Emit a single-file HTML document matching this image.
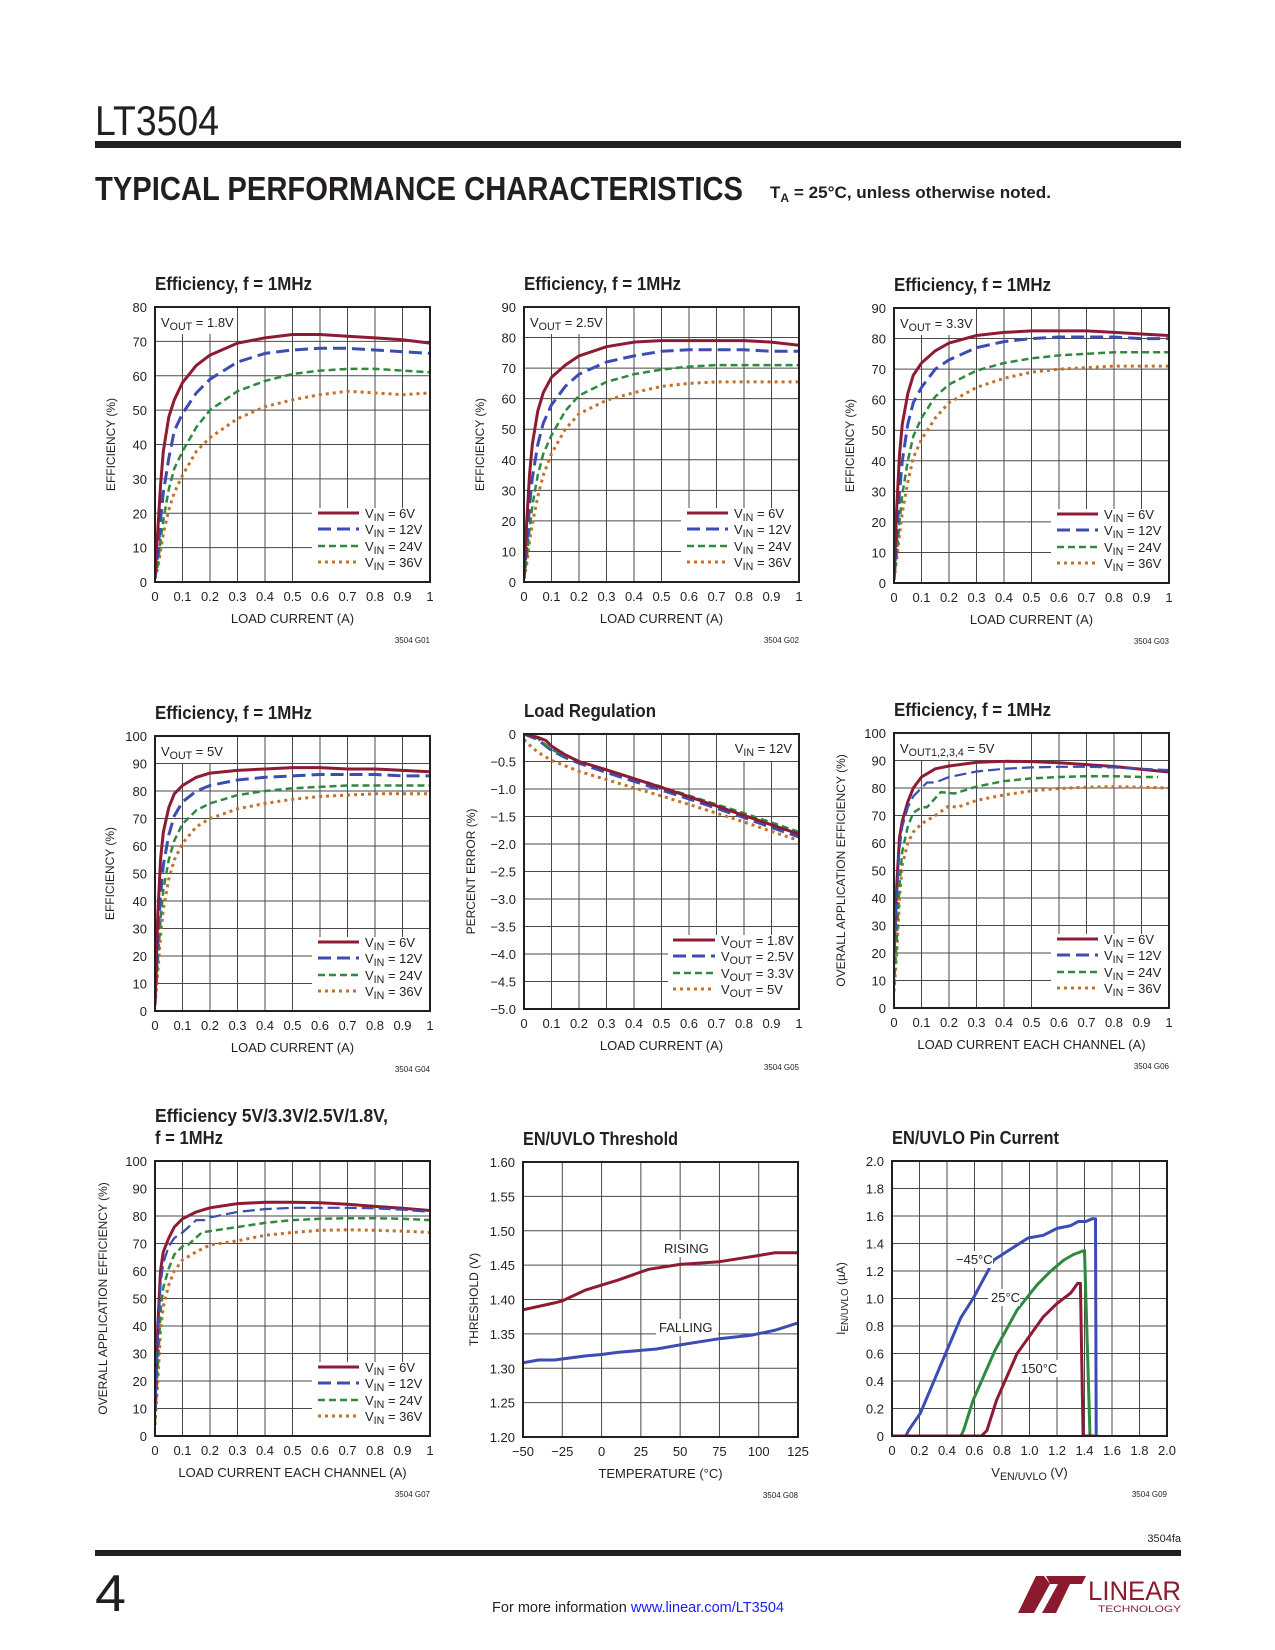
<!DOCTYPE html>
<html>
<head>
<meta charset="utf-8">
<style>
body{margin:0;background:#fff}
svg{display:block;font-family:"Liberation Sans",sans-serif}
</style>
</head>
<body>
<svg id="page" xmlns="http://www.w3.org/2000/svg" width="1275" height="1650" viewBox="0 0 1275 1650">
  <rect x="0" y="0" width="1275" height="1650" fill="#fff"/>
  <text x="95" y="135" font-size="42" fill="#231f20" textLength="124" lengthAdjust="spacingAndGlyphs">LT3504</text>
  <rect x="95" y="141" width="1086" height="7" fill="#231f20"/>
  <text x="95" y="200" font-size="33" font-weight="bold" fill="#231f20" textLength="648" lengthAdjust="spacingAndGlyphs">TYPICAL PERFORMANCE CHARACTERISTICS</text>
  <text x="770" y="198" font-size="17" font-weight="bold" fill="#231f20" textLength="281" lengthAdjust="spacingAndGlyphs">T<tspan font-size="12" dy="4">A</tspan><tspan dy="-4"> = 25°C, unless otherwise noted.</tspan></text>

  <text x="1181" y="1542" font-size="11" fill="#231f20" text-anchor="end">3504fa</text>
  <rect x="95" y="1550" width="1086" height="6" fill="#231f20"/>
  <text x="95" y="1611" font-size="52" fill="#231f20" textLength="31" lengthAdjust="spacingAndGlyphs">4</text>
  <text x="492" y="1612" font-size="15" fill="#231f20" textLength="292" lengthAdjust="spacingAndGlyphs">For more information <tspan fill="#1a1aff">www.linear.com/LT3504</tspan></text>
  <g fill="#8b1a2e">
    <polygon points="1018,1613 1034,1613 1050,1584 1044,1576 1036,1576"/>
    <polygon points="1046,1576 1086,1576 1082,1584 1070,1584 1056,1613 1042,1613 1058,1584 1050,1584"/>
    <text x="1088" y="1600" font-size="27" textLength="93" lengthAdjust="spacingAndGlyphs">LINEAR</text>
    <text x="1098" y="1612" font-size="9" textLength="83" lengthAdjust="spacingAndGlyphs">TECHNOLOGY</text>
  </g>
</svg>
<script>
// ---------- shared tick data ----------
const loadTicks = [0,0.1,0.2,0.3,0.4,0.5,0.6,0.7,0.8,0.9,1];
const loadTickLabels = ['0','0.1','0.2','0.3','0.4','0.5','0.6','0.7','0.8','0.9','1'];
const eff80Ticks = [0,10,20,30,40,50,60,70,80];
const eff80Labels = ['0','10','20','30','40','50','60','70','80'];
const eff90Ticks = [0,10,20,30,40,50,60,70,80,90];
const eff90Labels = ['0','10','20','30','40','50','60','70','80','90'];
const eff100Ticks = [0,10,20,30,40,50,60,70,80,90,100];
const eff100Labels = ['0','10','20','30','40','50','60','70','80','90','100'];
const errTicks = [-5,-4.5,-4,-3.5,-3,-2.5,-2,-1.5,-1,-0.5,0];
const errLabels = ['−5.0','−4.5','−4.0','−3.5','−3.0','−2.5','−2.0','−1.5','−1.0','−0.5','0'];
const tempTicks = [-50,-25,0,25,50,75,100,125];
const tempLabels = ['−50','−25','0','25','50','75','100','125'];
const thrTicks = [1.2,1.25,1.3,1.35,1.4,1.45,1.5,1.55,1.6];
const thrLabels = ['1.20','1.25','1.30','1.35','1.40','1.45','1.50','1.55','1.60'];
const pinTicks = [0,0.2,0.4,0.6,0.8,1.0,1.2,1.4,1.6,1.8,2.0];
const pinLabels = ['0','0.2','0.4','0.6','0.8','1.0','1.2','1.4','1.6','1.8','2.0'];

// ---------- efficiency charts 1-4 (shared load current points) ----------
const effLoadX = [0,0.01,0.02,0.03,0.05,0.07,0.1,0.15,0.2,0.3,0.4,0.5,0.6,0.7,0.8,0.9,1];
const g01Vin6  = [2,15,28,38,48,53,58,63,66,69.5,71,72,72,71.5,71,70.5,69.5];
const g01Vin12 = [1,8,18,26,36,44,49,55,59,64,66.5,67.5,68,68,67.5,67,66.5];
const g01Vin24 = [1,5,12,18,27,33,38,45,50,55.5,58.5,60.5,61.5,62,62,61.5,61];
const g01Vin36 = [1,4,9,14,21,26,31,38,42,47.5,51,53,54.5,55.5,55,54.5,55];

const g02Vin6  = [2,20,35,45,56,62,67,71,74,77,78.5,79,79,79,79,78.5,77.5];
const g02Vin12 = [1,12,25,34,45,52,58,64,68,72,74,75.5,76,76,76,75.5,75.5];
const g02Vin24 = [1,8,17,25,35,42,48,56,61,65.5,68,69.5,70.5,71,71,71,71];
const g02Vin36 = [1,6,13,19,28,35,42,50,55,59.5,62,64,65,65.5,65.5,65.5,65.5];

const g03Vin6  = [2,25,42,52,62,68,72,76,78.5,81,82,82.5,82.5,82.5,82,81.5,81];
const g03Vin12 = [1,15,30,40,52,59,64,70,73,77,79,80,80.5,80.5,80.5,80,80];
const g03Vin24 = [1,10,20,29,40,48,54,61,65,69.5,72,73.5,74.5,75,75.5,75.5,75.5];
const g03Vin36 = [1,8,16,23,33,41,47,54,59,64,67,69,70,70.5,71,71,71];

const g04Vin6  = [3,35,55,65,74,79,82,85,86.5,87.5,88,88.5,88.5,88,88,87.5,87];
const g04Vin12 = [2,25,42,53,64,71,76,80,82,84,85,85.5,86,86,86,85.5,85.5];
const g04Vin24 = [2,18,33,44,55,62,68,73,75.5,78.5,80,81,81.5,82,82,82,82];
const g04Vin36 = [2,14,27,37,48,55,61,67,70,73.5,75.5,77,78,78.5,79,79,79];

// ---------- load regulation ----------
const g05X18 = [0,0.05,0.08,0.1,0.15,0.2,0.3,0.4,0.5,0.6,0.7,0.8,0.9,1];
const g05Vout18 = [0,-0.06,-0.12,-0.22,-0.38,-0.5,-0.65,-0.81,-0.97,-1.14,-1.31,-1.48,-1.65,-1.82];
const g05X = [0,0.05,0.1,0.15,0.2,0.3,0.4,0.5,0.6,0.7,0.8,0.9,1];
const g05Vout25 = [0,-0.1,-0.3,-0.43,-0.53,-0.7,-0.86,-1.02,-1.18,-1.35,-1.52,-1.7,-1.87];
const g05Vout33 = [0,-0.08,-0.28,-0.4,-0.5,-0.66,-0.81,-0.96,-1.12,-1.28,-1.44,-1.61,-1.78];
const g05X5 = [0,0.02,0.05,0.1,0.15,0.2,0.3,0.4,0.5,0.6,0.7,0.8,0.9,1];
const g05Vout5 = [-0.1,-0.2,-0.33,-0.48,-0.58,-0.68,-0.83,-0.98,-1.13,-1.28,-1.44,-1.6,-1.77,-1.94];

// ---------- overall application efficiency, 5V ----------
const g06X6 = [0,0.01,0.02,0.03,0.05,0.07,0.1,0.15,0.2,0.3,0.4,0.5,0.6,0.7,0.8,0.9,1];
const g06Vin6 = [20,45,62,68,75,80,84,87,88,89.3,89.7,89.6,89.2,88.5,87.8,86.8,85.8];
const g06X12 = [0,0.01,0.02,0.03,0.05,0.07,0.1,0.12,0.15,0.2,0.3,0.4,0.5,0.6,0.7,0.8,0.9,1];
const g06Vin12 = [15,40,58,66,73,77,80,82,82,84,86,87,87.5,87.7,87.7,87.5,87,86.5];
const g06X24 = [0,0.01,0.02,0.03,0.05,0.07,0.1,0.12,0.17,0.22,0.3,0.4,0.5,0.6,0.7,0.8,0.9,0.96];
const g06Vin24 = [8,25,45,57,66,71,73,73,78.5,78,80.5,82.5,83.5,84,84.3,84.3,84,84];
const g06X36 = [0,0.01,0.02,0.03,0.05,0.07,0.1,0.15,0.2,0.23,0.3,0.4,0.5,0.6,0.7,0.8,0.9,1];
const g06Vin36 = [6,20,40,52,60,64,67,70,73.5,73,75.5,77.5,79,79.8,80.3,80.5,80.3,80];

// ---------- overall application efficiency, mixed outputs ----------
const g07X6 = [0,0.01,0.02,0.03,0.05,0.07,0.1,0.15,0.2,0.3,0.4,0.5,0.6,0.7,0.8,0.9,1];
const g07Vin6 = [10,40,60,67,72,76,79,81.5,83,84.5,85,85,84.8,84.3,83.5,82.8,82];
const g07X12 = [0,0.01,0.02,0.03,0.05,0.07,0.1,0.15,0.18,0.2,0.3,0.4,0.5,0.6,0.7,0.8,0.9,1];
const g07Vin12 = [8,35,55,63,69,72,74,78.5,78.5,79.5,81.5,82.5,83,83,83,82.8,82.3,81.5];
const g07X24 = [0,0.01,0.02,0.03,0.05,0.07,0.1,0.12,0.17,0.2,0.3,0.4,0.5,0.6,0.7,0.8,0.9,1];
const g07Vin24 = [5,25,45,54,61,66,69,69.5,74,74.5,76,77.5,78.5,79,79.2,79.2,79,78.5];
const g07X36 = [0,0.01,0.02,0.03,0.05,0.07,0.1,0.15,0.2,0.3,0.4,0.5,0.6,0.7,0.8,0.9,1];
const g07Vin36 = [4,20,38,47,55,60,64,67,69.5,71,73,74,74.8,75,74.8,74.5,74];

// ---------- EN/UVLO threshold ----------
const g08RiseT = [-50,-40,-30,-25,-10,0,10,25,30,50,75,100,110,125];
const g08Rise  = [1.385,1.39,1.395,1.398,1.414,1.421,1.428,1.44,1.444,1.451,1.455,1.464,1.468,1.468];
const g08FallT = [-50,-40,-30,-10,0,10,25,35,50,75,95,110,125];
const g08Fall  = [1.308,1.312,1.312,1.318,1.32,1.323,1.326,1.328,1.334,1.343,1.348,1.355,1.366];

// ---------- EN/UVLO pin current ----------
const g09ColdV = [0,0.1,0.12,0.206,0.39,0.5,0.59,0.74,0.88,0.99,1.1,1.2,1.3,1.355,1.41,1.455,1.48,1.485,1.5];
const g09ColdI = [0,0,0.04,0.165,0.6,0.86,1.0,1.28,1.37,1.44,1.46,1.51,1.53,1.56,1.56,1.58,1.58,0,0];
const g09RoomV = [0,0.5,0.52,0.59,0.75,0.91,1.055,1.15,1.25,1.32,1.4,1.44,1.5];
const g09RoomI = [0,0,0.04,0.26,0.625,0.916,1.1,1.195,1.28,1.32,1.35,0,0];
const g09HotV  = [0,0.65,0.69,0.76,0.91,1.1,1.2,1.3,1.35,1.37,1.39,1.47];
const g09HotI  = [0,0,0.04,0.26,0.6,0.867,0.964,1.04,1.11,1.11,0,0];

// ---------- drawing ----------
const NS = 'http://www.w3.org/2000/svg';
const page = document.getElementById('page');
const INK = '#231f20';
const RED = '#8e1b34', BLUE = '#3b4db2', GREEN = '#2f8a3f', ORANGE = '#c4702a';
const ST6 = {stroke: RED, w: 3, dash: ''};
const ST12 = {stroke: BLUE, w: 3, dash: '13 6'};
const ST24 = {stroke: GREEN, w: 2.5, dash: '7 4'};
const ST36 = {stroke: ORANGE, w: 3, dash: '3 4'};

function mk(tagName, attrs, parent) {
  const e = document.createElementNS(NS, tagName);
  for (const k in attrs) e.setAttribute(k, attrs[k]);
  parent.appendChild(e);
  return e;
}
function tag(e, name, inter) {
  
  
  return e;
}
function rich(parent, x, y, parts, size, anchor, extra) {
  const t = mk('text', Object.assign({x: x, y: y, 'font-size': size, fill: INK, 'text-anchor': anchor || 'start'}, extra || {}), parent);
  let sub = false;
  parts.forEach(p => {
    const ts = mk('tspan', {}, t);
    if (p[1] && !sub) { ts.setAttribute('dy', 3); ts.setAttribute('font-size', size * 0.82); sub = true; }
    else if (p[1]) { ts.setAttribute('font-size', size * 0.82); }
    else if (!p[1] && sub) { ts.setAttribute('dy', -3); sub = false; }
    ts.textContent = p[0];
  });
  return t;
}

let clipN = 0;
function drawChart(c) {
  const W = 275, H = 275;
  const g = tag(mk('g', {}, page), c.name, false);
  const sx = v => c.x0 + (v - c.xmin) / (c.xmax - c.xmin) * W;
  const sy = v => c.y0 + H - (v - c.ymin) / (c.ymax - c.ymin) * H;

  // title
  c.title.forEach((tl, i) => {
    const t = mk('text', {x: c.x0, y: c.y0 - 17 - (c.title.length - 1 - i) * 22, 'font-size': 18, 'font-weight': 'bold', fill: INK, textLength: tl[1], lengthAdjust: 'spacingAndGlyphs'}, g);
    tag(t, 'chart-title', false);
    t.textContent = tl[0];
  });

  // grid
  const grid = tag(mk('g', {stroke: '#4a4a4a', 'stroke-width': 1}, g), 'grid', false);
  c.xticks.forEach(v => {
    const x = sx(v);
    const l = mk('line', {x1: x, x2: x, y1: c.y0, y2: c.y0 + H}, grid);
    tag(l, 'grid-line-x', false);
  });
  c.yticks.forEach(v => {
    const y = sy(v);
    const l = mk('line', {x1: c.x0, x2: c.x0 + W, y1: y, y2: y}, grid);
    tag(l, 'grid-line-y', false);
  });

  // tick labels
  c.xticks.forEach((v, i) => {
    const t = mk('text', {x: sx(v), y: c.y0 + H + 19, 'font-size': 13, fill: INK, 'text-anchor': 'middle'}, g);
    tag(t, 'x-tick-label', false);
    t.textContent = c.xlabels[i];
  });
  c.yticks.forEach((v, i) => {
    const t = mk('text', {x: c.x0 - 8, y: sy(v) + 5, 'font-size': 13, fill: INK, 'text-anchor': 'end'}, g);
    tag(t, 'y-tick-label', false);
    t.textContent = c.ylabels[i];
  });

  // axis titles
  const xt = rich(g, c.x0 + W / 2, c.y0 + H + 41, c.xtitle, 13, 'middle');
  tag(xt, 'x-axis-title', false);
  const yx = c.x0 - c.ytOff, yy = c.y0 + H / 2;
  const yt = rich(g, yx, yy, c.ytitle, 12, 'middle', {transform: 'rotate(-90 ' + yx + ' ' + yy + ')'});
  tag(yt, 'y-axis-title', false);

  const code = mk('text', {x: c.x0 + W, y: c.y0 + H + 61, 'font-size': 8, fill: INK, 'text-anchor': 'end'}, g);
  tag(code, 'figure-code', false);
  code.textContent = c.code;

  // clip
  const cid = 'clip' + (clipN++);
  const cp = mk('clipPath', {id: cid}, g);
  mk('rect', {x: c.x0, y: c.y0, width: W, height: H}, cp);

  // series
  const sg = tag(mk('g', {'clip-path': 'url(#' + cid + ')', fill: 'none', 'stroke-linejoin': 'round'}, g), 'series-group', false);
  c.series.forEach(s => {
    const pts = s.x.map((xv, i) => sx(xv).toFixed(1) + ',' + sy(s.y[i]).toFixed(1)).join(' ');
    const pl = mk('polyline', {points: pts, stroke: s.st.stroke, 'stroke-width': s.st.w, 'stroke-dasharray': s.st.dash}, sg);
    tag(pl, s.name, false);
  });

  // annotation
  if (c.note) {
    const n = c.note;
    if (n.right) {
      const r = mk('rect', {x: c.x0 + W - n.w, y: c.y0 + 1, width: n.w - 1, height: 26, fill: '#fff'}, g);
      tag(r, 'annotation-background', false);
      const t = rich(g, c.x0 + W - 7, c.y0 + 19, n.parts, 13, 'end');
      tag(t, 'condition-annotation', false);
    } else {
      const r = mk('rect', {x: c.x0 + 1, y: c.y0 + 1, width: n.w, height: 26, fill: '#fff'}, g);
      tag(r, 'annotation-background', false);
      const t = rich(g, c.x0 + 6, c.y0 + 20, n.parts, 13, 'start');
      tag(t, 'condition-annotation', false);
    }
  }

  // legend
  if (c.legend) {
    const L = c.legend;
    const bg = mk('rect', {x: c.x0 + W - L.bgw, y: c.y0 + H - 74, width: L.bgw - 1, height: 73, fill: '#fff'}, g);
    tag(bg, 'legend-background', false);
    const rows = [-64, -48, -31, -15];
    L.items.forEach((it, i) => {
      const y = c.y0 + H + rows[i];
      const ln = mk('line', {x1: c.x0 + W - L.l1, x2: c.x0 + W - L.l2, y1: y - 5, y2: y - 5, stroke: it.st.stroke, 'stroke-width': it.st.w, 'stroke-dasharray': it.st.dash}, g);
      tag(ln, 'legend-swatch', false);
      const t = rich(g, c.x0 + W - L.tx, y, it.parts, 13, 'start');
      tag(t, 'legend-entry', false);
    });
  }

  // labels inside plot
  (c.labels || []).forEach(lb => {
    const r = mk('rect', {x: lb.x - 3, y: lb.y - 13, width: lb.w, height: 17, fill: '#fff'}, g);
    tag(r, 'curve-label-background', false);
    const t = mk('text', {x: lb.x, y: lb.y, 'font-size': 13, fill: INK}, g);
    tag(t, 'curve-label', false);
    t.textContent = lb.text;
  });

  // border
  const b = mk('rect', {x: c.x0, y: c.y0, width: W, height: H, fill: 'none', stroke: INK, 'stroke-width': 2}, g);
  tag(b, 'plot-frame', false);
}

const vinLegend = [
  {st: ST6, parts: [['V', false], ['IN', true], [' = 6V', false]]},
  {st: ST12, parts: [['V', false], ['IN', true], [' = 12V', false]]},
  {st: ST24, parts: [['V', false], ['IN', true], [' = 24V', false]]},
  {st: ST36, parts: [['V', false], ['IN', true], [' = 36V', false]]}
];
const stdLegend = {bgw: 118, l1: 112, l2: 71, tx: 65, items: vinLegend};
const effX = [['LOAD CURRENT (A)', false]];
const effY = [['EFFICIENCY (%)', false]];
const chX = [['LOAD CURRENT EACH CHANNEL (A)', false]];
const oaY = [['OVERALL APPLICATION EFFICIENCY (%)', false]];

function effSeries(a, b, c2, d, xs) {
  return [
    {name: 'series-vin-36v', x: xs, y: d, st: ST36},
    {name: 'series-vin-24v', x: xs, y: c2, st: ST24},
    {name: 'series-vin-12v', x: xs, y: b, st: ST12},
    {name: 'series-vin-6v', x: xs, y: a, st: ST6}
  ];
}

drawChart({name: 'chart-efficiency-1v8', x0: 155, y0: 307, xmin: 0, xmax: 1, ymin: 0, ymax: 80,
  xticks: loadTicks, xlabels: loadTickLabels, yticks: eff80Ticks, ylabels: eff80Labels,
  title: [['Efficiency, f = 1MHz', 157]], xtitle: effX, ytitle: effY, ytOff: 40, code: '3504 G01',
  series: effSeries(g01Vin6, g01Vin12, g01Vin24, g01Vin36, effLoadX),
  note: {w: 78, parts: [['V', false], ['OUT', true], [' = 1.8V', false]]}, legend: stdLegend});

drawChart({name: 'chart-efficiency-2v5', x0: 524, y0: 307, xmin: 0, xmax: 1, ymin: 0, ymax: 90,
  xticks: loadTicks, xlabels: loadTickLabels, yticks: eff90Ticks, ylabels: eff90Labels,
  title: [['Efficiency, f = 1MHz', 157]], xtitle: effX, ytitle: effY, ytOff: 40, code: '3504 G02',
  series: effSeries(g02Vin6, g02Vin12, g02Vin24, g02Vin36, effLoadX),
  note: {w: 78, parts: [['V', false], ['OUT', true], [' = 2.5V', false]]}, legend: stdLegend});

drawChart({name: 'chart-efficiency-3v3', x0: 894, y0: 308, xmin: 0, xmax: 1, ymin: 0, ymax: 90,
  xticks: loadTicks, xlabels: loadTickLabels, yticks: eff90Ticks, ylabels: eff90Labels,
  title: [['Efficiency, f = 1MHz', 157]], xtitle: effX, ytitle: effY, ytOff: 40, code: '3504 G03',
  series: effSeries(g03Vin6, g03Vin12, g03Vin24, g03Vin36, effLoadX),
  note: {w: 78, parts: [['V', false], ['OUT', true], [' = 3.3V', false]]}, legend: stdLegend});

drawChart({name: 'chart-efficiency-5v', x0: 155, y0: 736, xmin: 0, xmax: 1, ymin: 0, ymax: 100,
  xticks: loadTicks, xlabels: loadTickLabels, yticks: eff100Ticks, ylabels: eff100Labels,
  title: [['Efficiency, f = 1MHz', 157]], xtitle: effX, ytitle: effY, ytOff: 41, code: '3504 G04',
  series: effSeries(g04Vin6, g04Vin12, g04Vin24, g04Vin36, effLoadX),
  note: {w: 68, parts: [['V', false], ['OUT', true], [' = 5V', false]]}, legend: stdLegend});

drawChart({name: 'chart-load-regulation', x0: 524, y0: 734, xmin: 0, xmax: 1, ymin: -5, ymax: 0,
  xticks: loadTicks, xlabels: loadTickLabels, yticks: errTicks, ylabels: errLabels,
  title: [['Load Regulation', 132]], xtitle: effX, ytitle: [['PERCENT ERROR (%)', false]], ytOff: 49, code: '3504 G05',
  series: [
    {name: 'series-vout-5v', x: g05X5, y: g05Vout5, st: ST36},
    {name: 'series-vout-2v5', x: g05X, y: g05Vout25, st: ST12},
    {name: 'series-vout-3v3', x: g05X, y: g05Vout33, st: ST24},
    {name: 'series-vout-1v8', x: g05X18, y: g05Vout18, st: ST6}
  ],
  note: {right: true, w: 72, parts: [['V', false], ['IN', true], [' = 12V', false]]},
  legend: {bgw: 131, l1: 126, l2: 84, tx: 78, items: [
    {st: ST6, parts: [['V', false], ['OUT', true], [' = 1.8V', false]]},
    {st: ST12, parts: [['V', false], ['OUT', true], [' = 2.5V', false]]},
    {st: ST24, parts: [['V', false], ['OUT', true], [' = 3.3V', false]]},
    {st: ST36, parts: [['V', false], ['OUT', true], [' = 5V', false]]}
  ]}});

drawChart({name: 'chart-overall-efficiency-5v', x0: 894, y0: 733, xmin: 0, xmax: 1, ymin: 0, ymax: 100,
  xticks: loadTicks, xlabels: loadTickLabels, yticks: eff100Ticks, ylabels: eff100Labels,
  title: [['Efficiency, f = 1MHz', 157]], xtitle: chX, ytitle: oaY, ytOff: 49, code: '3504 G06',
  series: [
    {name: 'series-vin-36v', x: g06X36, y: g06Vin36, st: ST36},
    {name: 'series-vin-24v', x: g06X24, y: g06Vin24, st: ST24},
    {name: 'series-vin-6v', x: g06X6, y: g06Vin6, st: ST6},
    {name: 'series-vin-12v', x: g06X12, y: g06Vin12, st: {stroke: BLUE, w: 2.2, dash: '12 5'}}
  ],
  note: {w: 110, parts: [['V', false], ['OUT1,2,3,4', true], [' = 5V', false]]}, legend: stdLegend});

drawChart({name: 'chart-overall-efficiency-mixed', x0: 155, y0: 1161, xmin: 0, xmax: 1, ymin: 0, ymax: 100,
  xticks: loadTicks, xlabels: loadTickLabels, yticks: eff100Ticks, ylabels: eff100Labels,
  title: [['Efficiency 5V/3.3V/2.5V/1.8V,', 233], ['f = 1MHz', 68]], xtitle: chX, ytitle: oaY, ytOff: 48, code: '3504 G07',
  series: [
    {name: 'series-vin-36v', x: g07X36, y: g07Vin36, st: ST36},
    {name: 'series-vin-24v', x: g07X24, y: g07Vin24, st: ST24},
    {name: 'series-vin-6v', x: g07X6, y: g07Vin6, st: ST6},
    {name: 'series-vin-12v', x: g07X12, y: g07Vin12, st: {stroke: BLUE, w: 2.2, dash: '12 5'}}
  ],
  legend: stdLegend});

drawChart({name: 'chart-en-uvlo-threshold', x0: 523, y0: 1162, xmin: -50, xmax: 125, ymin: 1.2, ymax: 1.6,
  xticks: tempTicks, xlabels: tempLabels, yticks: thrTicks, ylabels: thrLabels,
  title: [['EN/UVLO Threshold', 155]], xtitle: [['TEMPERATURE (°C)', false]], ytitle: [['THRESHOLD (V)', false]], ytOff: 45, code: '3504 G08',
  series: [
    {name: 'series-rising', x: g08RiseT, y: g08Rise, st: {stroke: RED, w: 3, dash: ''}},
    {name: 'series-falling', x: g08FallT, y: g08Fall, st: {stroke: BLUE, w: 3, dash: ''}}
  ],
  labels: [{text: 'RISING', x: 664, y: 1253, w: 52}, {text: 'FALLING', x: 659, y: 1332, w: 62}]});

drawChart({name: 'chart-en-uvlo-pin-current', x0: 892, y0: 1161, xmin: 0, xmax: 2, ymin: 0, ymax: 2,
  xticks: pinTicks, xlabels: pinLabels, yticks: pinTicks, ylabels: pinLabels,
  title: [['EN/UVLO Pin Current', 167]], xtitle: [['V', false], ['EN/UVLO', true], [' (V)', false]],
  ytitle: [['I', false], ['EN/UVLO', true], [' (µA)', false]], ytOff: 47, code: '3504 G09',
  series: [
    {name: 'series-minus-45c', x: g09ColdV, y: g09ColdI, st: {stroke: BLUE, w: 3, dash: ''}},
    {name: 'series-25c', x: g09RoomV, y: g09RoomI, st: {stroke: GREEN, w: 3, dash: ''}},
    {name: 'series-150c', x: g09HotV, y: g09HotI, st: {stroke: RED, w: 3, dash: ''}}
  ],
  labels: [{text: '−45°C', x: 956, y: 1264, w: 40}, {text: '25°C', x: 991, y: 1302, w: 32}, {text: '150°C', x: 1021, y: 1373, w: 40}]});
</script>
</body>
</html>
